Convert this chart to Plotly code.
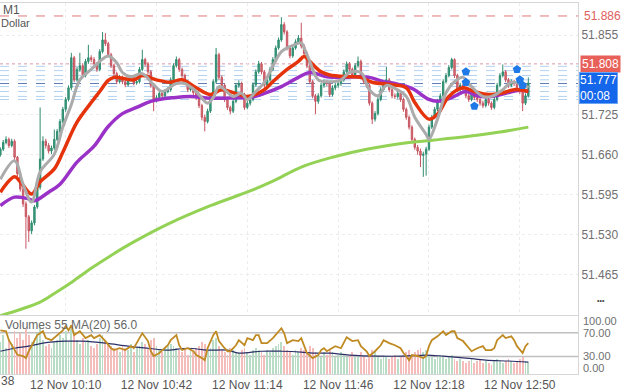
import plotly.graph_objects as go
import pandas as pd

# ---------------- data ----------------
start = "2024-11-12 09:47"
n_candles = 187

closes = [51.669, 51.680, 51.685, 51.675, 51.682, 51.656, 51.629, 51.604, 51.580, 51.559,
          51.536, 51.549, 51.575, 51.607, 51.653, 51.682, 51.675, 51.666, 51.671, 51.685,
          51.698, 51.714, 51.734, 51.750, 51.769, 51.818, 51.782, 51.799, 51.805, 51.789,
          51.812, 51.818, 51.815, 51.808, 51.799, 51.828, 51.847, 51.841, 51.823, 51.805,
          51.792, 51.779, 51.786, 51.779, 51.774, 51.782, 51.786, 51.777, 51.779, 51.799,
          51.815, 51.808, 51.795, 51.773, 51.750, 51.753, 51.760, 51.756, 51.763, 51.766,
          51.782, 51.805, 51.815, 51.799, 51.789, 51.779, 51.766, 51.769, 51.761, 51.753,
          51.740, 51.721, 51.714, 51.731, 51.756, 51.779, 51.823, 51.786, 51.773, 51.750,
          51.737, 51.731, 51.747, 51.773, 51.776, 51.758, 51.737, 51.744, 51.750, 51.774,
          51.795, 51.808, 51.795, 51.773, 51.782, 51.799, 51.815, 51.834, 51.847, 51.872,
          51.860, 51.834, 51.821, 51.834, 51.844, 51.850, 51.837, 51.825, 51.805, 51.779,
          51.756, 51.747, 51.756, 51.773, 51.779, 51.776, 51.758, 51.769, 51.773, 51.776,
          51.782, 51.795, 51.808, 51.799, 51.789, 51.805, 51.812, 51.789, 51.779, 51.773,
          51.744, 51.718, 51.727, 51.750, 51.766, 51.776, 51.782, 51.766, 51.756, 51.755,
          51.760, 51.750, 51.734, 51.721, 51.705, 51.685, 51.672, 51.666, 51.659, 51.661,
          51.669, 51.705, 51.721, 51.734, 51.747, 51.756, 51.779, 51.789, 51.802, 51.815,
          51.789, 51.766, 51.773, 51.766, 51.756, 51.750, 51.760, 51.753, 51.750, 51.744,
          51.740, 51.750, 51.744, 51.737, 51.750, 51.773, 51.789, 51.795, 51.782, 51.773,
          51.779, 51.776, 51.769, 51.763, 51.744, 51.756, 51.777]

opens = [51.660, 51.669, 51.680, 51.685, 51.675, 51.682, 51.656, 51.629, 51.604, 51.580,
         51.559, 51.536, 51.549, 51.575, 51.607, 51.653, 51.682, 51.675, 51.666, 51.671,
         51.685, 51.698, 51.714, 51.734, 51.750, 51.769, 51.818, 51.782, 51.799, 51.805,
         51.789, 51.812, 51.818, 51.815, 51.808, 51.799, 51.828, 51.847, 51.841, 51.823,
         51.805, 51.792, 51.779, 51.786, 51.779, 51.774, 51.782, 51.786, 51.777, 51.779,
         51.799, 51.815, 51.808, 51.795, 51.773, 51.750, 51.753, 51.760, 51.756, 51.763,
         51.766, 51.782, 51.805, 51.815, 51.799, 51.789, 51.779, 51.766, 51.769, 51.761,
         51.753, 51.740, 51.721, 51.714, 51.731, 51.756, 51.779, 51.823, 51.786, 51.773,
         51.750, 51.737, 51.731, 51.747, 51.773, 51.776, 51.758, 51.737, 51.744, 51.750,
         51.774, 51.795, 51.808, 51.795, 51.773, 51.782, 51.799, 51.815, 51.834, 51.847,
         51.872, 51.860, 51.834, 51.821, 51.834, 51.844, 51.850, 51.837, 51.825, 51.805,
         51.779, 51.756, 51.747, 51.756, 51.773, 51.779, 51.776, 51.758, 51.769, 51.773,
         51.776, 51.782, 51.795, 51.808, 51.799, 51.789, 51.805, 51.812, 51.789, 51.779,
         51.773, 51.744, 51.718, 51.727, 51.750, 51.766, 51.776, 51.782, 51.766, 51.756,
         51.755, 51.760, 51.750, 51.734, 51.721, 51.705, 51.685, 51.672, 51.666, 51.659,
         51.661, 51.669, 51.705, 51.721, 51.734, 51.747, 51.756, 51.779, 51.789, 51.802,
         51.815, 51.789, 51.766, 51.773, 51.766, 51.756, 51.750, 51.760, 51.753, 51.750,
         51.744, 51.740, 51.750, 51.744, 51.737, 51.750, 51.773, 51.789, 51.795, 51.782,
         51.773, 51.779, 51.776, 51.769, 51.763, 51.744, 51.756]

highs = [51.672, 51.684, 51.690, 51.688, 51.686, 51.685, 51.658, 51.632, 51.607, 51.584,
         51.562, 51.553, 51.578, 51.611, 51.737, 51.690, 51.686, 51.679, 51.675, 51.701,
         51.702, 51.718, 51.738, 51.754, 51.773, 51.826, 51.821, 51.803, 51.826, 51.809,
         51.816, 51.839, 51.822, 51.819, 51.811, 51.832, 51.860, 51.858, 51.844, 51.826,
         51.808, 51.795, 51.790, 51.789, 51.782, 51.786, 51.790, 51.789, 51.783, 51.803,
         51.831, 51.818, 51.811, 51.798, 51.776, 51.757, 51.764, 51.763, 51.767, 51.770,
         51.786, 51.809, 51.820, 51.818, 51.802, 51.792, 51.782, 51.773, 51.772, 51.764,
         51.756, 51.743, 51.725, 51.735, 51.760, 51.783, 51.834, 51.826, 51.789, 51.776,
         51.753, 51.740, 51.751, 51.777, 51.781, 51.779, 51.761, 51.748, 51.754, 51.778,
         51.799, 51.813, 51.811, 51.798, 51.786, 51.803, 51.819, 51.838, 51.851, 51.884,
         51.876, 51.863, 51.837, 51.838, 51.848, 51.855, 51.875, 51.840, 51.828, 51.808,
         51.782, 51.759, 51.760, 51.777, 51.783, 51.782, 51.779, 51.773, 51.777, 51.780,
         51.786, 51.799, 51.812, 51.811, 51.802, 51.809, 51.820, 51.815, 51.792, 51.782,
         51.776, 51.747, 51.731, 51.754, 51.770, 51.780, 51.803, 51.785, 51.769, 51.760,
         51.764, 51.763, 51.753, 51.737, 51.724, 51.708, 51.688, 51.676, 51.670, 51.665,
         51.673, 51.709, 51.725, 51.738, 51.751, 51.760, 51.783, 51.793, 51.806, 51.818,
         51.817, 51.792, 51.777, 51.776, 51.769, 51.759, 51.764, 51.763, 51.757, 51.753,
         51.748, 51.754, 51.753, 51.747, 51.754, 51.777, 51.793, 51.807, 51.798, 51.785,
         51.783, 51.782, 51.779, 51.772, 51.766, 51.760, 51.786]

lows = [51.657, 51.666, 51.677, 51.671, 51.672, 51.650, 51.625, 51.600, 51.575, 51.507,
        51.518, 51.531, 51.545, 51.572, 51.603, 51.650, 51.670, 51.662, 51.661, 51.668,
        51.682, 51.695, 51.711, 51.730, 51.747, 51.765, 51.778, 51.779, 51.795, 51.785,
        51.786, 51.808, 51.811, 51.804, 51.795, 51.796, 51.825, 51.837, 51.819, 51.801,
        51.788, 51.775, 51.776, 51.775, 51.770, 51.771, 51.779, 51.773, 51.774, 51.776,
        51.796, 51.804, 51.791, 51.769, 51.731, 51.745, 51.750, 51.752, 51.753, 51.760,
        51.763, 51.779, 51.802, 51.795, 51.785, 51.775, 51.762, 51.763, 51.757, 51.749,
        51.736, 51.716, 51.698, 51.711, 51.728, 51.753, 51.776, 51.782, 51.769, 51.746,
        51.733, 51.726, 51.728, 51.744, 51.769, 51.754, 51.733, 51.734, 51.740, 51.747,
        51.771, 51.792, 51.791, 51.769, 51.770, 51.779, 51.796, 51.812, 51.831, 51.844,
        51.856, 51.830, 51.817, 51.818, 51.831, 51.841, 51.833, 51.821, 51.801, 51.775,
        51.752, 51.726, 51.743, 51.753, 51.769, 51.772, 51.754, 51.755, 51.765, 51.769,
        51.772, 51.779, 51.792, 51.795, 51.785, 51.786, 51.802, 51.785, 51.775, 51.769,
        51.740, 51.710, 51.714, 51.724, 51.747, 51.763, 51.772, 51.762, 51.752, 51.751,
        51.751, 51.746, 51.730, 51.717, 51.701, 51.681, 51.668, 51.660, 51.640, 51.624,
        51.626, 51.666, 51.702, 51.718, 51.731, 51.744, 51.753, 51.776, 51.786, 51.799,
        51.785, 51.762, 51.762, 51.762, 51.752, 51.746, 51.747, 51.749, 51.746, 51.740,
        51.736, 51.737, 51.740, 51.733, 51.734, 51.747, 51.770, 51.786, 51.778, 51.769,
        51.770, 51.772, 51.765, 51.759, 51.731, 51.741, 51.753]

volumes = [150, 180, 120, 160, 140, 200, 170, 190, 160, 210, 180, 150, 170, 190, 220, 160, 130, 140, 120, 150,
           160, 180, 170, 200, 150, 210, 190, 160, 140, 170,
           150, 160, 130, 120, 140, 170, 180, 160, 140, 130, 120, 110, 100, 130, 120, 110, 140, 100, 120, 130,
           150, 140, 120, 160, 170, 130, 110, 100, 120, 130,
           140, 130, 120, 110, 100, 120, 90, 110, 100, 120, 130, 150, 140, 110, 120, 160, 170, 130, 110, 100,
           90, 120, 110, 100, 95, 110, 120, 100, 90, 110,
           120, 110, 100, 90, 110, 100, 120, 130, 140, 150, 130, 110, 100, 90, 110, 100, 120, 110, 100, 130,
           120, 100, 90, 80, 100, 90, 110, 100, 80, 90,
           100, 90, 80, 90, 100, 80, 90, 100, 80, 70, 90, 110, 100, 80, 70, 90, 80, 70, 80, 90,
           70, 80, 90, 100, 110, 90, 100, 110, 120, 100,
           110, 90, 80, 70, 80, 90, 80, 70, 80, 90, 70, 60, 70, 60, 50, 60, 70, 50, 60, 70,
           50, 60, 50, 40, 60, 70, 60, 50, 60, 70, 60, 50, 60, 70, 80, 60, 55]

# moving averages (candle index, price)
fast_ma_idx = [0, 5, 8, 11, 14, 19, 22, 25, 28, 32, 35, 38, 41, 43, 46, 50, 54, 57, 62, 65,
               69, 73, 75, 77, 79, 82, 85, 87, 90, 93, 95, 99, 102, 106, 107, 109, 112, 115, 120, 123,
               127, 130, 133, 136, 139, 143, 146, 150, 151, 154, 157, 160, 163, 166, 170, 173, 177, 180, 184, 186]
fast_ma = [51.620, 51.650, 51.612, 51.583, 51.632, 51.661, 51.705, 51.742, 51.782, 51.799,
           51.812, 51.821, 51.810, 51.794, 51.787, 51.792, 51.774, 51.763, 51.776, 51.776,
           51.763, 51.744, 51.753, 51.771, 51.766, 51.755, 51.760, 51.750, 51.763, 51.778,
           51.795, 51.828, 51.836, 51.842, 51.834, 51.812, 51.782, 51.779, 51.782, 51.794,
           51.794, 51.766, 51.756, 51.773, 51.768, 51.755, 51.721, 51.693, 51.685, 51.718,
           51.761, 51.779, 51.786, 51.771, 51.755, 51.755, 51.766, 51.778, 51.774, 51.769]

mid_ma_idx = [0, 5, 7, 11, 14, 19, 22, 27, 32, 35, 38, 40, 47, 50, 55, 60, 64, 69, 74, 78,
              84, 87, 93, 96, 101, 105, 107, 109, 113, 116, 123, 127, 131, 138, 143, 146, 151, 154, 158, 163,
              167, 172, 177, 181, 186]
mid_ma = [51.599, 51.624, 51.616, 51.596, 51.616, 51.637, 51.664, 51.713, 51.745, 51.763,
          51.781, 51.786, 51.782, 51.789, 51.782, 51.778, 51.782, 51.769, 51.758, 51.766,
          51.758, 51.755, 51.766, 51.779, 51.799, 51.812, 51.820, 51.812, 51.795, 51.790,
          51.787, 51.786, 51.778, 51.774, 51.769, 51.745, 51.718, 51.726, 51.755, 51.769,
          51.763, 51.758, 51.761, 51.766, 51.763]

slow_ma_idx = [0, 5, 10, 12, 17, 21, 27, 33, 38, 43, 48, 53, 61, 67, 74, 84, 88, 93, 99, 105,
               109, 115, 121, 126, 130, 135, 139, 145, 151, 154, 159, 164, 168, 173, 178, 183, 186]
slow_ma = [51.577, 51.591, 51.588, 51.585, 51.599, 51.612, 51.648, 51.674, 51.706, 51.727,
           51.737, 51.747, 51.753, 51.755, 51.752, 51.753, 51.753, 51.760, 51.771, 51.786,
           51.794, 51.787, 51.786, 51.787, 51.786, 51.779, 51.776, 51.768, 51.750, 51.747,
           51.753, 51.763, 51.756, 51.755, 51.760, 51.765, 51.763]

long_ma_idx = [0, 7, 14, 19, 25, 32, 39, 47, 59, 74, 88, 96, 106, 117, 129, 144, 153, 165, 176, 186]
long_ma = [51.398, 51.408, 51.420, 51.434, 51.452, 51.475, 51.496, 51.518, 51.547, 51.577,
           51.601, 51.617, 51.640, 51.656, 51.669, 51.680, 51.684, 51.690, 51.697, 51.705]

osc_idx = [0, 2, 3, 4, 6, 8, 9, 10, 12, 13, 15, 16, 18, 20, 22, 23, 24, 25, 26, 28,
           30, 32, 33, 35, 37, 39, 40, 42, 44, 46, 47, 49, 50, 52, 53, 54, 56, 59, 60, 62,
           63, 64, 66, 68, 69, 71, 72, 73, 75, 76, 77, 79, 80, 81, 83, 84, 86, 87, 89, 90,
           91, 92, 94, 96, 98, 99, 100, 101, 103, 105, 106, 107, 108, 110, 112, 113, 114, 115, 117, 118,
           120, 121, 122, 124, 126, 127, 129, 130, 132, 134, 135, 137, 139, 141, 142, 143, 144, 145, 147, 149,
           150, 151, 152, 154, 156, 157, 159, 160, 161, 163, 165, 166, 168, 170, 171, 173, 174, 175, 177, 178,
           180, 181, 182, 184, 185, 186]
osc = [74, 72.5, 57.5, 49, 33, 31, 27.5, 39, 57.5, 66, 72.5, 61, 57.5, 66, 74, 81, 74, 82.5, 66, 72.5,
       61, 66, 61, 66, 56, 44, 41, 44, 41, 47.5, 44, 61, 69, 56, 39, 31, 36, 49, 57.5, 66,
       49, 41, 44, 39, 32.5, 27.5, 24, 44, 66, 72.5, 56, 44, 39, 39, 49, 57.5, 49, 61, 57.5, 66,
       66, 52.5, 52.5, 61, 72.5, 77.5, 69, 52.5, 57.5, 56, 61, 47.5, 36, 27.5, 32.5, 41, 44, 39, 44, 47.5,
       44, 52.5, 62.5, 56, 57.5, 47.5, 39, 31, 39, 49, 57.5, 52.5, 49, 44, 36, 31, 24, 32.5, 31, 27.5,
       31, 47.5, 57.5, 64, 72.5, 66, 72.5, 72.5, 61, 56, 44, 39, 44, 47.5, 41, 41, 44, 57.5, 66, 61,
       64, 57.5, 47.5, 36, 47.5, 52.5]

vol_ma_idx = [0, 5, 10, 15, 23, 29, 37, 45, 52, 59, 66, 73, 80, 84, 92, 99, 106, 110, 116, 123,
              133, 142, 150, 156, 164, 171, 179, 186]
vol_ma = [107, 121, 131, 145, 154, 154, 145, 131, 121, 112, 121, 112, 112, 98, 107, 107, 103, 98, 98, 89,
          84, 84, 89, 84, 75, 65, 61, 56]

arrow_idx = [164, 164, 167, 182, 183, 184]
arrow_price = [51.795, 51.778, 51.739, 51.799, 51.782, 51.773]

level_red = 51.886
level_pink = 51.808
levels_blue = [51.804, 51.797, 51.789, 51.782, 51.771, 51.763, 51.755, 51.750]
level_current = 51.776

price_ticks = [51.855, 51.725, 51.660, 51.595, 51.530, 51.465]
time_ticks = ["10:10", "10:42", "11:14", "11:46", "12:18", "12:50"]

for arr in (closes, opens, highs, lows, volumes):
    assert len(arr) == n_candles, len(arr)

# ---------------- figure ----------------
times = pd.date_range(start, periods=n_candles, freq="min")


def tsel(idx):
    return [times[i] for i in idx]


FONT = "Liberation Sans, Arial, sans-serif"
W, H = 625, 392
ML, MR, MT, MB = 0, 47, 3, 16
plot_w = W - ML - MR
plot_h = H - MT - MB
pane_top_px = 317


def py(px):  # pixel row -> paper y
    return (H - MB - px) / plot_h


def pxx(px):  # pixel column -> paper x
    return (px - ML) / plot_w


split = py(pane_top_px)

fig = go.Figure()

fig.add_trace(go.Candlestick(
    x=times, open=opens, high=highs, low=lows, close=closes,
    increasing=dict(line=dict(color="#2f8c70", width=1), fillcolor="#3a9c7e"),
    decreasing=dict(line=dict(color="#c65560", width=1), fillcolor="#d8737b"),
    whiskerwidth=0, xaxis="x", yaxis="y", showlegend=False, hoverinfo="skip"))

fig.add_trace(go.Scatter(x=tsel(long_ma_idx), y=long_ma, mode="lines",
                         line=dict(color="#93d254", width=3, shape="spline", smoothing=1),
                         xaxis="x", yaxis="y", showlegend=False))
fig.add_trace(go.Scatter(x=tsel(slow_ma_idx), y=slow_ma, mode="lines",
                         line=dict(color="#9b32c8", width=3.5, shape="spline", smoothing=1),
                         xaxis="x", yaxis="y", showlegend=False))
fig.add_trace(go.Scatter(x=tsel(mid_ma_idx), y=mid_ma, mode="lines",
                         line=dict(color="#e5340c", width=3.5, shape="spline", smoothing=1),
                         xaxis="x", yaxis="y", showlegend=False))
fig.add_trace(go.Scatter(x=tsel(fast_ma_idx), y=fast_ma, mode="lines",
                         line=dict(color="#ababab", width=3, shape="spline", smoothing=1),
                         xaxis="x", yaxis="y", showlegend=False))
fig.add_trace(go.Scatter(x=tsel(arrow_idx), y=arrow_price, mode="markers",
                         marker=dict(symbol="pentagon", size=9, color="#1f7ae8"),
                         xaxis="x", yaxis="y", showlegend=False))

# volume pane
bar_colors = ["#b9dcc7" if c >= o else "#f5bcbc" for o, c in zip(opens, closes)]
fig.add_trace(go.Bar(x=times, y=volumes, marker=dict(color=bar_colors, line=dict(width=0)),
                     width=18000, xaxis="x2", yaxis="y2", showlegend=False))
fig.add_trace(go.Scatter(x=tsel(vol_ma_idx), y=vol_ma, mode="lines",
                         line=dict(color="#2b2f66", width=1.2, shape="spline", smoothing=1),
                         xaxis="x2", yaxis="y2", showlegend=False))
fig.add_trace(go.Scatter(x=tsel(osc_idx), y=osc, mode="lines",
                         line=dict(color="#c08a22", width=1.8),
                         xaxis="x2", yaxis="y3", showlegend=False))

t0 = pd.Timestamp(start)
x_range = [t0 - pd.Timedelta(seconds=8), t0 + pd.Timedelta(seconds=int(203.5 * 60))]
tick_times = [pd.Timestamp("2024-11-12 " + t) for t in time_ticks]
tick_text = ["12 Nov " + t for t in time_ticks]

shapes = []
shapes.append(dict(type="line", xref="paper", x0=0, x1=1, yref="y", y0=level_red, y1=level_red,
                   line=dict(color="#e07a7a", width=1, dash="dash"), layer="below"))
shapes.append(dict(type="line", xref="paper", x0=0, x1=1, yref="y", y0=level_pink, y1=level_pink,
                   line=dict(color="#d99aa6", width=1, dash="dot"), layer="below"))
for lv in levels_blue:
    shapes.append(dict(type="line", xref="paper", x0=0, x1=1, yref="y", y0=lv, y1=lv,
                       line=dict(color="#b3d2f0", width=1, dash="dash"), layer="below"))
shapes.append(dict(type="line", xref="paper", x0=0, x1=1, yref="y", y0=level_current, y1=level_current,
                   line=dict(color="#5f7fb5", width=1, dash="dash"), layer="below"))
for lv in (70, 30):
    shapes.append(dict(type="line", xref="paper", x0=0, x1=1, yref="y3", y0=lv, y1=lv,
                       line=dict(color="#bfbfbf", width=1.5), layer="below"))

grey = "#707070"
annotations = [
    dict(text="51.886", x=pxx(582), xref="paper", xanchor="left", y=level_red, yref="y",
         showarrow=False, font=dict(color="#e06060", size=12, family=FONT)),
    dict(text="51.808", x=pxx(580), xref="paper", xanchor="left", y=level_pink, yref="y",
         showarrow=False, font=dict(color="white", size=12, family=FONT),
         bgcolor="#e8605a", borderpad=1),
    dict(text="51.777<br>00:08", x=pxx(579), xref="paper", xanchor="left", y=py(88), yref="paper",
         yanchor="middle", showarrow=False, align="left",
         font=dict(color="white", size=12, family=FONT),
         bgcolor="#1466ea", bordercolor="#6aa5f5", borderwidth=1, borderpad=0),
    dict(text="M1", x=pxx(2), xref="paper", xanchor="left", y=py(10.5), yref="paper",
         yanchor="middle", showarrow=False, borderpad=0,
         font=dict(color="#555555", size=12, family=FONT)),
    dict(text="Dollar", x=pxx(0), xref="paper", xanchor="left", y=py(23.5), yref="paper",
         yanchor="middle", showarrow=False, borderpad=0,
         font=dict(color="#555555", size=11, family=FONT)),
    dict(text="Volumes 55 MA(20) 56.0", x=pxx(139), xref="paper", xanchor="right",
         y=py(326.5), yref="paper", yanchor="middle", showarrow=False,
         font=dict(color="#666666", size=12, family=FONT)),
    dict(text="•••", x=pxx(601), xref="paper", xanchor="center", y=py(302), yref="paper",
         yanchor="middle", showarrow=False, font=dict(color="#444444", size=7, family=FONT)),
    dict(text="38", x=pxx(0), xref="paper", xanchor="left", y=py(383.5), yref="paper",
         yanchor="middle", showarrow=False, borderpad=0,
         font=dict(color="#555555", size=12, family=FONT)),
]
for label, ypx in (("100.00", 322.5), ("70.00", 334.5), ("30.00", 357.5), ("0.00", 370)):
    annotations.append(dict(text=label, x=pxx(582), xref="paper", xanchor="left", y=py(ypx),
                            yref="paper", yanchor="middle", showarrow=False, borderpad=0,
                            font=dict(color=grey, size=11, family=FONT)))

fig.update_layout(
    width=W, height=H, margin=dict(l=ML, r=MR, t=MT, b=MB),
    paper_bgcolor="white", plot_bgcolor="white",
    font=dict(family=FONT, size=12, color=grey),
    bargap=0, showlegend=False, hovermode=False,
    xaxis=dict(type="date", range=x_range, domain=[0, 1], anchor="y",
               showticklabels=False, ticks="", tickvals=tick_times,
               showgrid=True, gridcolor="#ececec", griddash="dot", gridwidth=1,
               showline=True, mirror=True, linecolor="#d6d6d6", linewidth=1,
               rangeslider=dict(visible=False), zeroline=False),
    yaxis=dict(domain=[split, 1], anchor="x", side="right",
               range=[51.39846, 51.90714], tickvals=price_ticks,
               ticktext=[f"{v:.3f}" for v in price_ticks], ticks="",
               tickfont=dict(color=grey, size=12, family=FONT),
               showgrid=True, gridcolor="#ececec", griddash="dot",
               showline=True, linecolor="#d6d6d6", zeroline=False),
    xaxis2=dict(type="date", range=x_range, domain=[0, 1], anchor="y2", matches="x",
                tickvals=tick_times, ticktext=tick_text, ticks="",
                tickfont=dict(color="#555555", size=12, family=FONT),
                showgrid=False, showline=True, linecolor="#d6d6d6", zeroline=False),
    yaxis2=dict(domain=[0, split], anchor="x2", side="right", range=[0, 275.7],
                showticklabels=False, ticks="", showgrid=False, zeroline=False,
                showline=True, linecolor="#d6d6d6"),
    yaxis3=dict(overlaying="y2", anchor="x2", side="right", range=[0.83, 99.17],
                showticklabels=False, ticks="", showgrid=False, zeroline=False, showline=False),
    shapes=shapes, annotations=annotations,
)

fig.write_html("out.html")
